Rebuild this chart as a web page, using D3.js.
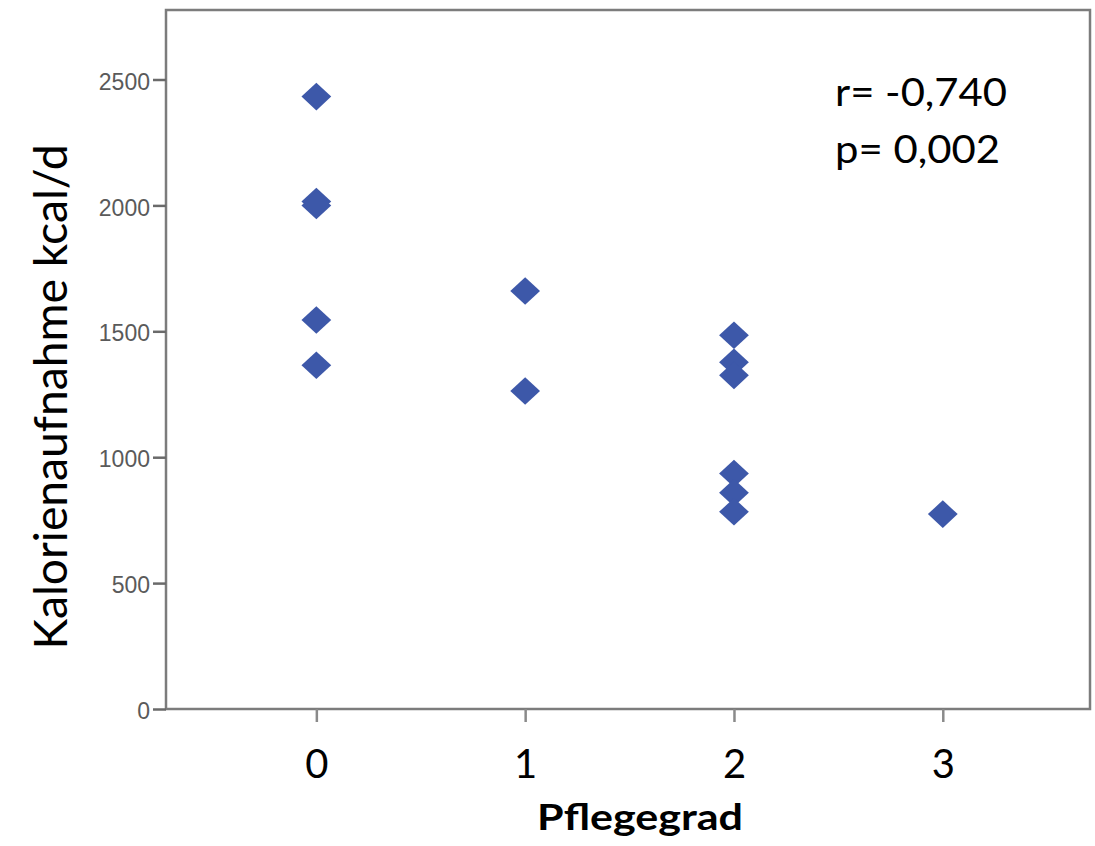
<!DOCTYPE html>
<html>
<head>
<meta charset="utf-8">
<script src="https://cdn.jsdelivr.net/npm/d3@7"></script>
<style>
  html, body { margin: 0; padding: 0; background: #fff; }
  svg { display: block; }
</style>
</head>
<body>
<svg id="chart" width="1095" height="846"></svg>
<script>
// ---- data ----
const pflegegrad = [0, 0, 0, 0, 0, 1, 1, 2, 2, 2, 2, 2, 2, 3];
const kalorien   = [2432, 2015, 2000, 1545, 1365, 1660, 1263, 1484, 1377, 1325, 935, 859, 783, 774];
const xTickValues = [0, 1, 2, 3];
const xTickLabels = ["0", "1", "2", "3"];
const yTickValues = [0, 500, 1000, 1500, 2000, 2500];
const annotation = ["r= -0,740", "p= 0,002"];
const xTitle = "Pflegegrad";
const yTitle = "Kalorienaufnahme kcal/d";

// ---- layout ----
const svg = d3.select("#chart");
const plot = { left: 166, right: 1090, top: 10, bottom: 709 };

const x = d3.scaleLinear().domain([-0.72, 3.705]).range([plot.left, plot.right]);
const y = d3.scaleLinear().domain([0, 2776]).range([plot.bottom, plot.top]);

svg.append("rect").attr("width", 1095).attr("height", 846).attr("fill", "#fff");

// frame
svg.append("rect")
  .attr("x", plot.left).attr("y", plot.top)
  .attr("width", plot.right - plot.left).attr("height", plot.bottom - plot.top)
  .attr("fill", "none").attr("stroke", "#7c7c7c").attr("stroke-width", 2.5);

// y axis
const yAxis = svg.append("g")
  .attr("transform", `translate(${plot.left},0)`)
  .call(d3.axisLeft(y).tickValues(yTickValues).tickSize(13).tickPadding(3).tickFormat(d3.format("d")));
yAxis.select(".domain").remove();
yAxis.selectAll(".tick line").attr("stroke", "#6a6a6a").attr("stroke-width", 2.5);
yAxis.selectAll(".tick text")
  .attr("fill", "#5a5a5a")
  .style("font-family", "'Liberation Sans', Arial, sans-serif")
  .style("font-size", "23px")
  .attr("dy", "0.42em");

// x axis
const xAxis = svg.append("g")
  .attr("transform", `translate(0,${plot.bottom})`)
  .call(d3.axisBottom(x).tickValues(xTickValues).tickSize(13).tickPadding(28)
        .tickFormat((d, i) => xTickLabels[i]));
xAxis.select(".domain").remove();
xAxis.selectAll(".tick line").attr("stroke", "#8a8a8a").attr("stroke-width", 2.5);
xAxis.selectAll(".tick text")
  .attr("fill", "#000")
  .style("font-family", "Lato, 'Open Sans', sans-serif")
  .style("font-size", "40px");

// points (diamonds)
const diamond = d3.symbol().type(d3.symbolSquare).size(380);
svg.append("g").selectAll("path")
  .data(kalorien.map((v, i) => ({ x: pflegegrad[i], y: v })))
  .join("path")
  .attr("d", diamond)
  .attr("transform", d => `translate(${x(d.x)},${y(d.y)}) scale(1.08,1) rotate(45)`)
  .attr("fill", "#3d58a9");

// annotation
svg.append("g").selectAll("text")
  .data(annotation)
  .join("text")
  .attr("x", 835)
  .attr("y", (d, i) => 106 + i * 57)
  .attr("textLength", (d, i) => i === 0 ? 172 : 165)
  .attr("lengthAdjust", "spacingAndGlyphs")
  .style("font-family", "Lato, 'Open Sans', sans-serif")
  .style("font-size", "39px")
  .attr("fill", "#000")
  .text(d => d);

// x title
svg.append("text")
  .attr("x", 640).attr("y", 830)
  .attr("text-anchor", "middle")
  .attr("textLength", 206)
  .attr("lengthAdjust", "spacingAndGlyphs")
  .style("font-family", "Lato, 'Open Sans', sans-serif")
  .style("font-weight", "bold")
  .style("font-size", "36px")
  .attr("fill", "#000")
  .text(xTitle);

// y title
svg.append("text")
  .attr("transform", "translate(67,397) rotate(-90)")
  .attr("text-anchor", "middle")
  .attr("textLength", 505)
  .attr("lengthAdjust", "spacingAndGlyphs")
  .style("font-family", "Lato, 'Open Sans', sans-serif")
  .style("font-size", "46px")
  .attr("fill", "#000")
  .text(yTitle);
</script>
</body>
</html>
